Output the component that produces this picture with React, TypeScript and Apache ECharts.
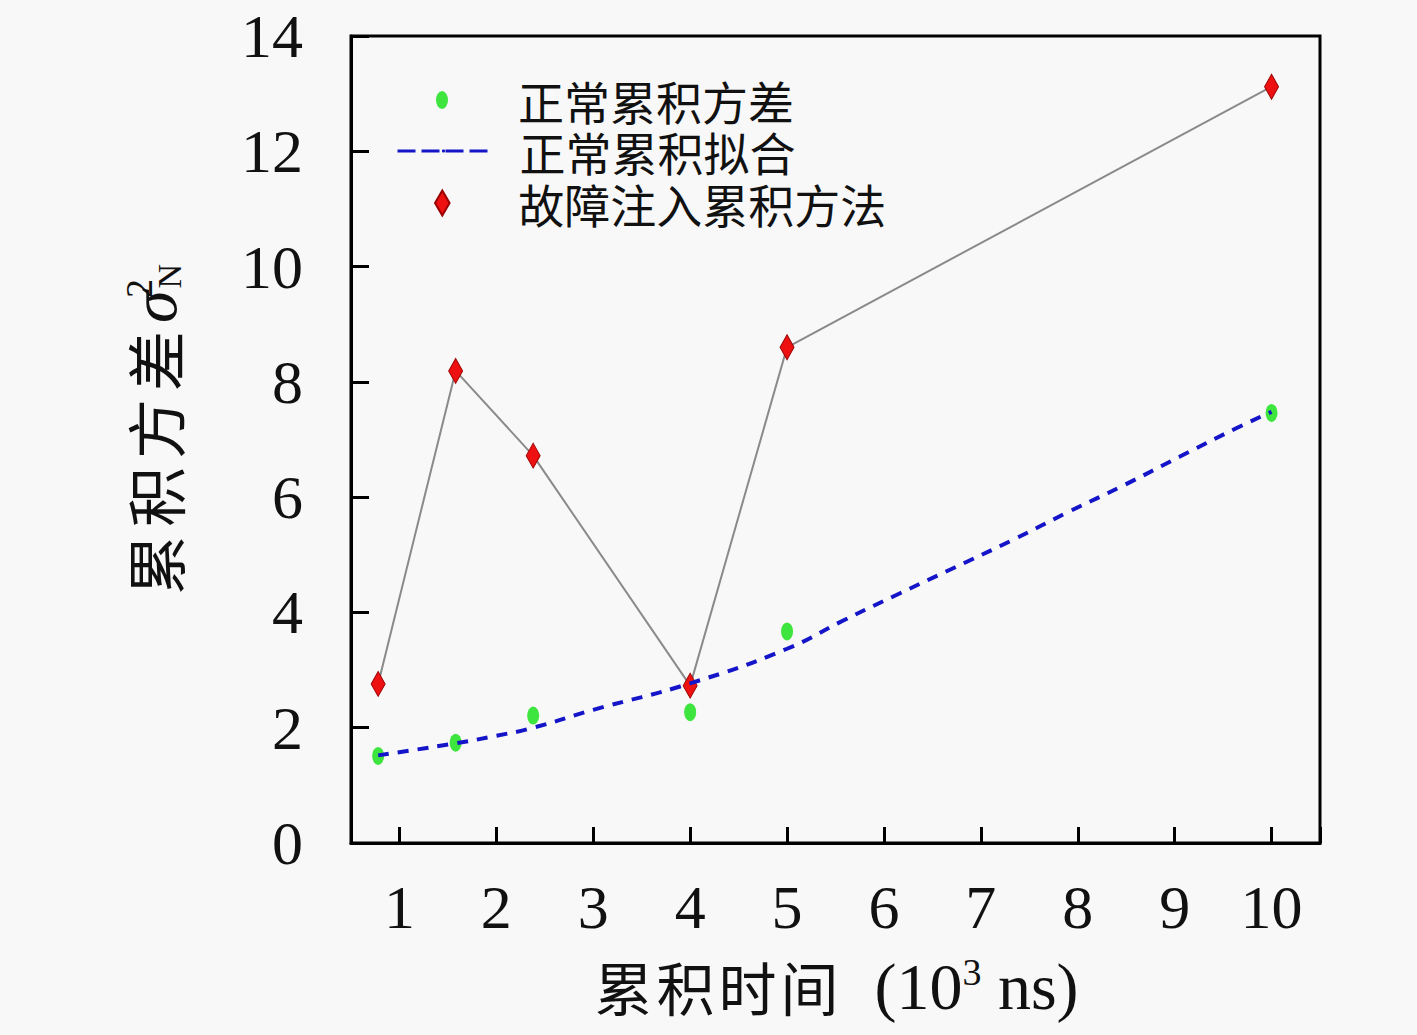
import React, { useEffect, useRef } from "react";
import * as echarts from "echarts";

// measured points
const xValues = [0.78, 1.58, 2.38, 4, 5, 10];
const normalVariance = [1.51, 1.74, 2.21, 2.27, 3.67, 7.46];
const faultVariance = [2.76, 8.19, 6.72, 2.73, 8.6, 13.12];
// fitted curve
const fitX = [0.78, 1.58, 2.0, 2.38, 3.0, 4.0, 5.0, 5.58, 6.15, 6.73, 7.32, 7.9, 8.48, 9.05, 9.63, 10.0];
const fitY = [1.52, 1.73, 1.86, 2.0, 2.31, 2.77, 3.37, 3.86, 4.32, 4.78, 5.25, 5.74, 6.21, 6.7, 7.19, 7.48];

const seriesNames = ["正常累积方差", "正常累积拟合", "故障注入累积方法"];
const xNameChars = ["累", "积", "时", "间"];
const yNameChars = ["累", "积", "方", "差"];

const SERIF = "'Liberation Serif', 'DejaVu Serif', serif";
const CJK = "'Noto Sans CJK SC', 'Liberation Serif', sans-serif";

const ELLIPSE = "path://M0,9a6,9 0 1,0 12,0a6,9 0 1,0 -12,0";
const DIAMOND = "path://M7,0L14,12L7,24L0,12Z";

export default function App() {
  const ref = useRef<HTMLDivElement>(null);

  useEffect(() => {
    if (!ref.current) return;
    const chart = echarts.init(ref.current, undefined, { renderer: "svg" });
    const pair = (xs: number[], ys: number[]) => xs.map((x, i) => [x, ys[i]]);

    const legendText = {
      fontFamily: CJK,
      fontSize: 46,
      lineHeight: 46,
      color: "#111",
      padding: [0, 0, 0, 25],
    };

    const xName =
      xNameChars.map((c) => `{c|${c}}`).join("") + "{n1|(10}{sup|3}{n2| ns)}";
    const yName =
      "{st|}" + yNameChars.map((c) => `{c|${c}}`).join("") + "{s|σ}{sup|2}{sub|N}";

    chart.setOption({
      animation: false,
      backgroundColor: "#f8f8f8",
      grid: {
        left: 351,
        right: 97,
        top: 36,
        bottom: 192,
        show: true,
        borderColor: "#000",
        borderWidth: 3,
        outerBoundsMode: "none",
      },
      legend: [
        {
          data: [{ name: seriesNames[0], icon: ELLIPSE }],
          left: 436,
          top: 77,
          padding: 0,
          itemWidth: 92,
          itemHeight: 18,
          textStyle: legendText,
          selectedMode: false,
        },
        {
          data: [{ name: seriesNames[1] }],
          left: 396,
          top: 128,
          padding: 0,
          itemWidth: 92,
          itemHeight: 4,
          lineStyle: { type: [18, 6], width: 3 },
          textStyle: legendText,
          selectedMode: false,
        },
        {
          data: [{ name: seriesNames[2], icon: DIAMOND }],
          left: 434,
          top: 180,
          padding: 0,
          itemWidth: 92,
          itemHeight: 25,
          textStyle: legendText,
          selectedMode: false,
        },
      ],
      xAxis: {
        type: "value",
        min: 0.5,
        max: 10.5,
        splitNumber: 10,
        name: xName,
        nameLocation: "middle",
        nameGap: 110,
        nameTextStyle: {
          rich: {
            c: { fontFamily: CJK, fontSize: 58, color: "#111", lineHeight: 66, padding: [0, 2, 0, 2] },
            n1: { fontFamily: SERIF, fontSize: 66, color: "#111", lineHeight: 66, padding: [0, 0, 0, 34] },
            n2: { fontFamily: SERIF, fontSize: 66, color: "#111", lineHeight: 66 },
            sup: { fontFamily: SERIF, fontSize: 38, color: "#111", verticalAlign: "top", lineHeight: 42 },
          },
        },
        axisLine: { show: true, lineStyle: { color: "#000", width: 3 } },
        axisTick: { show: true, inside: true, length: 16, lineStyle: { color: "#000", width: 3 } },
        axisLabel: {
          fontFamily: SERIF,
          fontSize: 62,
          color: "#111",
          margin: 33,
          formatter: (v: number) => (Number.isInteger(v) ? String(v) : ""),
        },
        splitLine: { show: false },
      },
      yAxis: {
        type: "value",
        min: 0,
        max: 14,
        interval: 2,
        name: yName,
        nameLocation: "middle",
        nameGap: 165,
        nameTextStyle: {
          rich: {
            st: { fontSize: 10, width: 16, lineHeight: 10 },
            c: { fontFamily: CJK, fontSize: 60, color: "#111", lineHeight: 66, padding: [0, 4, 0, 4] },
            s: { fontFamily: SERIF, fontStyle: "italic", fontSize: 66, color: "#111", lineHeight: 66, padding: [0, 2, 0, 4] },
            sup: { fontFamily: SERIF, fontSize: 38, color: "#111", verticalAlign: "top", lineHeight: 42, width: 0 },
            sub: { fontFamily: SERIF, fontSize: 34, color: "#111", verticalAlign: "bottom", lineHeight: 46 },
          },
        },
        axisLine: { show: true, lineStyle: { color: "#000", width: 3 } },
        axisTick: { show: true, inside: true, length: 18, lineStyle: { color: "#000", width: 3 } },
        axisLabel: { fontFamily: SERIF, fontSize: 62, color: "#111", margin: 48 },
        splitLine: { show: false },
      },
      series: [
        {
          name: seriesNames[2],
          type: "line",
          data: pair(xValues, faultVariance),
          symbol: DIAMOND,
          symbolSize: [14, 25],
          showSymbol: true,
          lineStyle: { color: "#8a8a8a", width: 2 },
          itemStyle: { color: "#ee1111", borderColor: "#990000", borderWidth: 1 },
          z: 2,
        },
        {
          name: seriesNames[0],
          type: "scatter",
          data: pair(xValues, normalVariance),
          symbol: ELLIPSE,
          symbolSize: [12, 18],
          itemStyle: { color: "#10e010" },
          z: 3,
        },
        {
          name: seriesNames[1],
          type: "line",
          data: pair(fitX, fitY),
          smooth: true,
          symbol: "none",
          lineStyle: { color: "#1414c8", width: 4, type: [11, 9] },
          itemStyle: { color: "#1414c8" },
          z: 4,
        },
      ],
    });
    return () => chart.dispose();
  }, []);

  return (
    <div
      ref={ref}
      style={{ position: "absolute", left: 0, top: 0, width: 1417, height: 1035, background: "#f8f8f8" }}
    />
  );
}
